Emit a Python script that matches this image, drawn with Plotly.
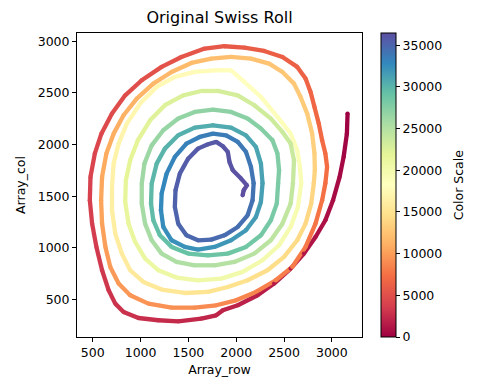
import plotly.graph_objects as go
from plotly.colors import sample_colorscale

# ---- data (spiral traced loop by loop, outer -> inner) ----
loop1_x = [3164, 3157, 3123, 3081, 3012, 2932, 2829, 2708, 2569, 2396, 2223, 2016, 1860, 1791, 1635, 1393,
           1185, 978, 822, 735, 666, 597, 538, 493, 469, 476, 521, 590, 701, 839, 1012, 1220, 1427, 1670,
           1877, 2085, 2292, 2483, 2638, 2725, 2777, 2818, 2863, 2898, 2932, 2950, 2932]
loop1_y = [2300, 2106, 1881, 1687, 1461, 1268, 1106, 945, 800, 655, 542, 445, 397, 348, 316, 290,
           300, 322, 380, 461, 590, 784, 1010, 1235, 1461, 1687, 1913, 2106, 2300, 2477, 2623, 2752, 2848, 2929,
           2952, 2939, 2906, 2848, 2752, 2639, 2510, 2364, 2203, 2042, 1913, 1784, 1626]
loop1_c = [0, 165, 361, 529, 730, 906, 1066, 1234, 1399, 1584, 1752, 1936, 2066, 2134, 2261, 2454,
           2619, 2784, 2916, 3013, 3137, 3310, 3509, 3704, 3897, 4090, 4285, 4459, 4646, 4833, 5018, 5216, 5401, 5604,
           5770, 5935, 6103, 6263, 6411, 6530, 6648, 6775, 6918, 7059, 7171, 7282, 7416]

loop2_x = [2898, 2829, 2725, 2586, 2413, 2206, 1998, 1791, 1566, 1324, 1081, 891, 770, 683, 632, 597, 587, 597,
           642, 718, 822, 960, 1133, 1324, 1531, 1739, 1946, 2154, 2344, 2483, 2604, 2673, 2742, 2794, 2818, 2822, 2811]
loop2_y = [1461, 1235, 1010, 816, 687, 574, 493, 445, 422, 422, 461, 542, 655, 816, 1010, 1235, 1461, 1687,
           1913, 2106, 2284, 2445, 2590, 2703, 2790, 2832, 2848, 2832, 2784, 2703, 2590, 2461, 2300, 2106, 1913, 1752, 1626]
loop2_c = [7560, 7761, 7970, 8168, 8345, 8535, 8714, 8884, 9063, 9256, 9452, 9617, 9752, 9906, 10077, 10272, 10465, 10658,
           10853, 11030, 11203, 11380, 11564, 11743, 11925, 12093, 12258, 12423, 12580, 12710, 12845, 12969, 13117, 13288,
           13453, 13591, 13698]

loop3_x = [2784, 2725, 2638, 2500, 2327, 2119, 1912, 1704, 1462, 1220, 1029, 891, 804, 735, 701, 701, 718, 770,
           856, 995, 1168, 1358, 1566, 1773, 1946, 2085, 2258, 2431, 2569, 2638, 2666, 2680]
loop3_y = [1429, 1235, 1074, 913, 784, 687, 622, 574, 564, 597, 671, 784, 945, 1139, 1364, 1590, 1816, 2010,
           2203, 2397, 2558, 2655, 2703, 2719, 2719, 2606, 2461, 2268, 2106, 1945, 1784, 1626]
loop3_c = [13869, 14040, 14194, 14370, 14547, 14731, 14905, 15075, 15268, 15464, 15629, 15775, 15929, 16103, 16298,
           16491, 16684, 16854, 17033, 17232, 17427, 17601, 17772, 17937, 18075, 18220, 18405, 18620, 18796, 18945,
           19085, 19220]

loop4_x = [2645, 2569, 2448, 2275, 2067, 1843, 1600, 1375, 1185, 1047, 943, 874, 839, 846, 891, 971, 1099, 1254,
           1445, 1635, 1808, 2016, 2189, 2362, 2483, 2569, 2604, 2593]
loop4_y = [1397, 1203, 1026, 881, 768, 703, 687, 713, 784, 897, 1058, 1235, 1445, 1655, 1848, 2042, 2235, 2381,
           2477, 2519, 2519, 2477, 2381, 2252, 2123, 2010, 1848, 1626]
loop4_c = [19418, 19595, 19774, 19958, 20148, 20336, 20528, 20707, 20870, 21016, 21176, 21338, 21520, 21699, 21867,
           22043, 22236, 22412, 22586, 22743, 22880, 23048, 23208, 23384, 23530, 23649, 23789, 23979]

loop5_x = [2569, 2483, 2362, 2189, 1981, 1773, 1566, 1375, 1220, 1116, 1047, 1012, 1012, 1040, 1116, 1237, 1393,
           1566, 1756, 1946, 2119, 2258, 2379, 2431, 2448, 2438]
loop5_y = [1429, 1235, 1074, 945, 864, 832, 832, 864, 945, 1074, 1235, 1429, 1622, 1816, 1993, 2139, 2252,
           2316, 2339, 2316, 2252, 2155, 2042, 1913, 1752, 1626]
loop5_c = [24147, 24326, 24494, 24670, 24849, 25017, 25183, 25337, 25477, 25615, 25764, 25932, 26097, 26265, 26427,
           26584, 26741, 26890, 27042, 27193, 27342, 27479, 27614, 27733, 27871, 27978]

loop6_x = [2424, 2362, 2258, 2102, 1912, 1704, 1497, 1324, 1202, 1133, 1109, 1116, 1168, 1254, 1393, 1566, 1756,
           1946, 2102, 2206, 2258, 2275]
loop6_y = [1429, 1268, 1122, 1010, 945, 929, 945, 1010, 1122, 1268, 1429, 1622, 1816, 1961, 2090, 2164, 2187,
           2164, 2090, 1977, 1816, 1626]
loop6_c = [28146, 28292, 28441, 28598, 28760, 28925, 29091, 29239, 29374, 29509, 29647, 29812, 29983, 30123, 30280,
           30432, 30583, 30735, 30875, 31002, 31145, 31308]

loop7_x = [2258, 2206, 2102, 1946, 1773, 1600, 1462, 1324, 1237, 1213, 1220, 1272, 1358, 1479, 1618, 1756, 1894,
           2016, 2102, 2154, 2182]
loop7_y = [1445, 1300, 1171, 1074, 1010, 984, 1010, 1074, 1203, 1364, 1526, 1719, 1881, 2010, 2074, 2106, 2090,
           2026, 1929, 1784, 1626]
loop7_c = [31462, 31591, 31729, 31878, 32026, 32167, 32280, 32404, 32533, 32671, 32808, 32979, 33133, 33279, 33403,
           33516, 33626, 33737, 33844, 33973, 34111]

loop8_x = [2171, 2119, 2016, 1877, 1739, 1600, 1479, 1393, 1358, 1365, 1410, 1497, 1600, 1704, 1791, 1860, 1912,
           1929, 1964, 2050, 2112, 2078, 2067]
loop8_y = [1461, 1316, 1203, 1122, 1080, 1074, 1122, 1235, 1397, 1558, 1719, 1864, 1961, 2003, 2026, 1984, 1929,
           1832, 1752, 1671, 1606, 1558, 1510]
loop8_c = [34251, 34381, 34508, 34637, 34753, 34863, 34968, 35086, 35226, 35364, 35507, 35648, 35763, 35854, 35926,
           35992, 36055, 36138, 36212, 36309, 36383, 36433, 36474]

x_ticks = [500, 1000, 1500, 2000, 2500, 3000]
y_ticks = [500, 1000, 1500, 2000, 2500, 3000]
cbar_ticks = [0, 5000, 10000, 15000, 20000, 25000, 30000, 35000]
cbar_labels = ["0", "5000", "10000", "15000", "20000", "25000", "30000", "35000"]
color_max = 36475

spiral_x = loop1_x + loop2_x + loop3_x + loop4_x + loop5_x + loop6_x + loop7_x + loop8_x
spiral_y = loop1_y + loop2_y + loop3_y + loop4_y + loop5_y + loop6_y + loop7_y + loop8_y
spiral_c = loop1_c + loop2_c + loop3_c + loop4_c + loop5_c + loop6_c + loop7_c + loop8_c

SPECTRAL = [
    [0.0, "rgb(158,1,66)"], [0.1, "rgb(213,62,79)"], [0.2, "rgb(244,109,67)"],
    [0.3, "rgb(253,174,97)"], [0.4, "rgb(254,224,139)"], [0.5, "rgb(255,255,191)"],
    [0.6, "rgb(230,245,152)"], [0.7, "rgb(171,221,164)"], [0.8, "rgb(102,194,165)"],
    [0.9, "rgb(50,136,189)"], [1.0, "rgb(94,79,162)"],
]

FONT = "DejaVu Sans"
LW = 4.3

fig = go.Figure()
for i in range(len(spiral_x) - 1):
    v = (spiral_c[i] + spiral_c[i + 1]) / 2 / color_max
    col = sample_colorscale(SPECTRAL, [v])[0]
    fig.add_trace(go.Scatter(
        x=[spiral_x[i], spiral_x[i + 1]], y=[spiral_y[i], spiral_y[i + 1]],
        mode="lines", line=dict(color=col, width=LW),
        hoverinfo="skip", showlegend=False))

fig.add_trace(go.Scatter(
    x=spiral_x, y=spiral_y, mode="markers", showlegend=False,
    marker=dict(size=LW, color=spiral_c, colorscale=SPECTRAL, cmin=0, cmax=color_max,
                line=dict(width=0), showscale=True,
                colorbar=dict(
                    x=1.065, xanchor="left", xpad=0, ypad=0,
                    y=0.5, yanchor="middle", len=1, lenmode="fraction",
                    thickness=15, thicknessmode="pixels",
                    outlinewidth=1, outlinecolor="black",
                    tickmode="array", tickvals=cbar_ticks, ticktext=cbar_labels,
                    ticks="outside", ticklen=4, tickcolor="black",
                    tickfont=dict(family=FONT, size=12.5, color="black"),
                ))))

axis_common = dict(
    showgrid=False, zeroline=False, showline=True, mirror=True,
    linecolor="black", linewidth=1, ticks="outside", ticklen=4, tickcolor="black",
    tickfont=dict(family=FONT, size=12.5, color="black"),
)

# the page body adds an 8px offset, so the figure is sized to the remaining window
fig.update_layout(
    width=469, height=382,
    margin=dict(l=67, r=115, t=25, b=53),
    paper_bgcolor="white", plot_bgcolor="white",
    font=dict(family=FONT, size=12.5, color="black"),
    title=dict(text="Original Swiss Roll", x=0.5, xref="paper", xanchor="center",
               y=1 - 9 / 382, yref="container", yanchor="middle",
               font=dict(family=FONT, size=16, color="black")),
    xaxis=dict(range=[335, 3315], tickmode="array", tickvals=x_ticks,
               title=dict(text="Array_row", standoff=6, font=dict(family=FONT, size=12.5)),
               **axis_common),
    yaxis=dict(range=[138, 3080], tickmode="array", tickvals=y_ticks,
               title=dict(text="Array_col", standoff=9, font=dict(family=FONT, size=12.5)),
               **axis_common),
    annotations=[dict(text="Color Scale", x=1.338, y=0.5, xref="paper", yref="paper",
                      xanchor="center", yanchor="middle", textangle=-90, showarrow=False,
                      font=dict(family=FONT, size=12.5, color="black"))],
)

fig.write_html("out.html")
